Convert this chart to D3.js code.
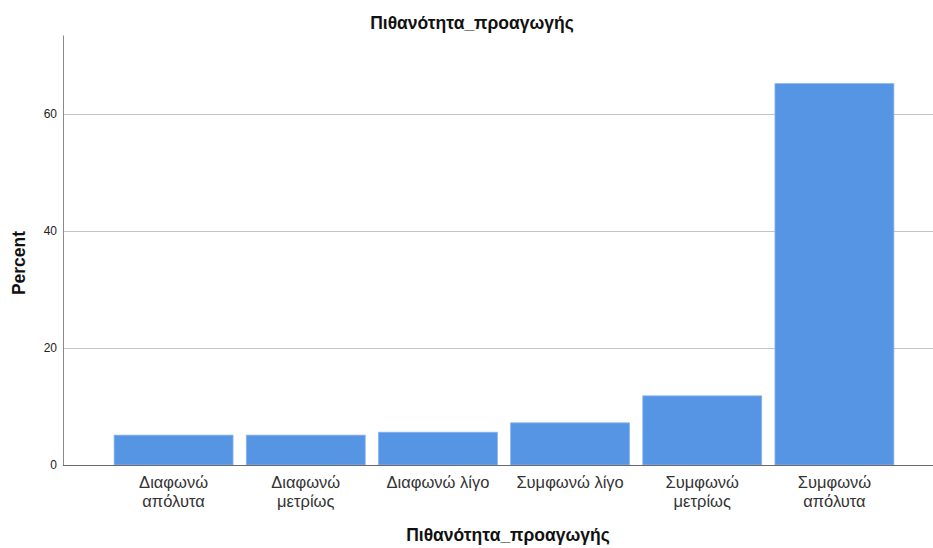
<!DOCTYPE html>
<html>
<head>
<meta charset="utf-8">
<script src="https://cdn.jsdelivr.net/npm/d3@7"></script>
<style>
  body { margin: 0; background: #fff; }
  text { font-family: "Liberation Sans", Arial, sans-serif; }
</style>
</head>
<body>
<svg width="933" height="548"></svg>
<script>
var categories = [
  ["Διαφωνώ", "απόλυτα"],
  ["Διαφωνώ", "μετρίως"],
  ["Διαφωνώ λίγο"],
  ["Συμφωνώ λίγο"],
  ["Συμφωνώ", "μετρίως"],
  ["Συμφωνώ", "απόλυτα"]
];
var percents = [5.1, 5.1, 5.6, 7.2, 11.8, 65.1];
var yTicks = [0, 20, 40, 60];
var title = "Πιθανότητα_προαγωγής";

var svg = d3.select("svg"),
    margin = {top: 35, right: 0, bottom: 83, left: 63},
    width = svg.attr("width") - margin.left - margin.right,
    height = svg.attr("height") - margin.top - margin.bottom;

var data = percents.map(function(v, i) { return {i: i, label: categories[i], value: v}; });

var x = d3.scaleBand()
    .domain(data.map(function(d) { return d.i; }))
    .range([44.5, 837.5])
    .paddingInner(0.1)
    .paddingOuter(0.05);

var y = d3.scaleLinear()
    .domain([0, 73.4])
    .range([height, 0]);

var g = svg.append("g")
    .attr("transform", "translate(" + margin.left + "," + margin.top + ")");

// lineas de la rejilla
g.selectAll(".grid").data(yTicks.slice(1)).enter().append("line")
    .attr("x1", 0).attr("x2", width)
    .attr("y1", function(d) { return Math.round(y(d)) + 0.5; })
    .attr("y2", function(d) { return Math.round(y(d)) + 0.5; })
    .attr("stroke", "#c4c4c4");

g.selectAll(".bar").data(data).enter().append("rect")
    .attr("x", function(d) { return x(d.i); })
    .attr("y", function(d) { return y(d.value); })
    .attr("width", x.bandwidth())
    .attr("height", function(d) { return height - y(d.value); })
    .attr("fill", "#5694e4")
    .attr("stroke", "#8cb6ee")
    .attr("stroke-width", 0.8);

// eje y
var yAxis = g.append("g")
    .call(d3.axisLeft(y).tickValues(yTicks).tickSize(0).tickPadding(6));
yAxis.select(".domain").attr("stroke", "#8a8a8a");
yAxis.selectAll("text").attr("font-size", 12).attr("fill", "#222")
    .style("font-family", "'Liberation Sans', Arial, sans-serif");

// eje x
g.append("line")
    .attr("x1", 0).attr("x2", width)
    .attr("y1", height + 0.5).attr("y2", height + 0.5)
    .attr("stroke", "#6a6a6a");

var lab = g.selectAll(".lab").data(data).enter().append("text")
    .attr("text-anchor", "middle")
    .attr("font-size", 16.5)
    .attr("fill", "#333")
    .attr("transform", function(d) { return "translate(" + (x(d.i) + x.bandwidth() / 2) + "," + (height + 23) + ")"; });
lab.selectAll("tspan").data(function(d) { return d.label; }).enter().append("tspan")
    .attr("x", 0)
    .attr("dy", function(d, i) { return i ? 18.5 : 0; })
    .text(function(d) { return d; });

svg.append("text")
    .attr("x", 472).attr("y", 29)
    .attr("text-anchor", "middle")
    .attr("font-size", 17.5).attr("font-weight", "bold").attr("fill", "#111")
    .text(title);

svg.append("text")
    .attr("x", 508).attr("y", 541)
    .attr("text-anchor", "middle")
    .attr("font-size", 17.5).attr("font-weight", "bold").attr("fill", "#111")
    .text(title);

svg.append("text")
    .attr("transform", "translate(25,263) rotate(-90)")
    .attr("text-anchor", "middle")
    .attr("font-size", 17.5).attr("font-weight", "bold").attr("fill", "#111")
    .text("Percent");
</script>
</body>
</html>
